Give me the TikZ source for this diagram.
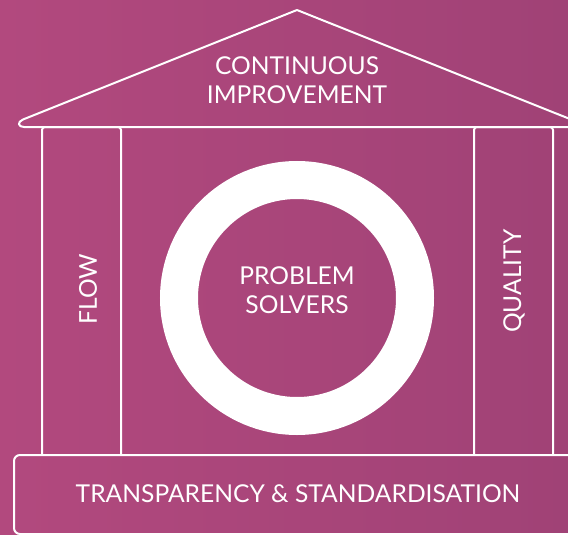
\documentclass[tikz,border=0pt]{standalone}
\usepackage{fontspec}
\setmainfont{Lato}
\begin{document}
\begin{tikzpicture}[x=1pt,y=-1pt,
  outline/.style={draw=white,line width=2pt,line join=round},
  label/.style={text=white,font=\fontsize{24.6}{28.5}\selectfont,align=center,inner sep=0pt}]
\definecolor{bgleft}{RGB}{178,73,126}
\definecolor{bgright}{RGB}{160,66,118}
\useasboundingbox (0,0) rectangle (568,535);
\clip (0,0) rectangle (568,535);
\shade[left color=bgleft,right color=bgright] (0,0) rectangle (568,535);
% roof with a rounded left eave
\coordinate (apex) at (297,10);
\draw[outline] (apex) -- (23,119.5) .. controls (17,122) and (18,127) .. (24,127) -- (600,127);
\draw[outline] (apex) -- (600,131);
% pillars
\draw[outline,rounded corners=3pt] (42,455) -- (42,127) -- (121,127) -- (121,455);
\draw[outline,rounded corners=3pt] (474,455) -- (474,127) -- (553,127) -- (553,455);
% base
\draw[outline,rounded corners=6pt] (600,455) -- (14,455) -- (14,534) -- (600,534);
% ring
\node[circle,draw=white,line width=38pt,minimum size=236pt,inner sep=0pt] (ring) at (297,298) {};
% labels
\node[label] (roof) at (297,80) {CONTINUOUS\\IMPROVEMENT};
\node[label,rotate=90] (flow) at (88,289) {FLOW};
\node[label,rotate=90] (quality) at (514,281) {QUALITY};
\node[label] (core) at (297,290) {PROBLEM\\SOLVERS};
\node[label] (base) at (298,494) {TRANSPARENCY \& STANDARDISATION};
\end{tikzpicture}
\end{document}
